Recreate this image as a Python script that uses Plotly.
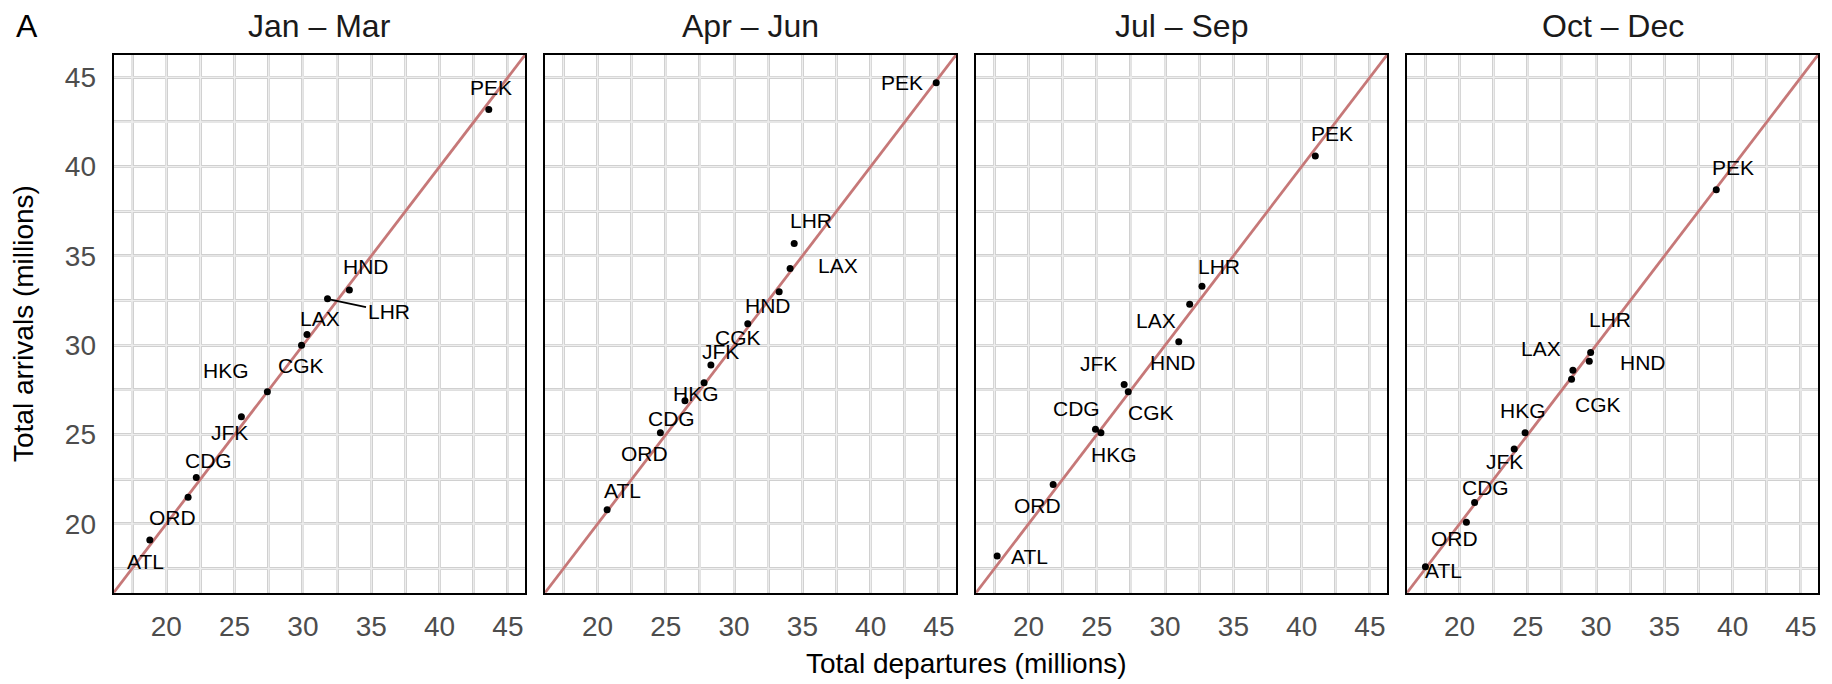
import plotly.graph_objects as go

# ---- data (millions of passengers) ----
airports = ["ATL", "ORD", "CDG", "JFK", "HKG", "CGK", "LAX", "LHR", "HND", "PEK"]
quarters = ["Jan – Mar", "Apr – Jun", "Jul – Sep", "Oct – Dec"]

dep_q1 = [18.8, 21.6, 22.2, 25.5, 27.4, 29.9, 30.3, 31.8, 33.4, 43.6]
arr_q1 = [19.1, 21.5, 22.6, 26.0, 27.4, 30.0, 30.6, 32.6, 33.1, 43.2]

dep_q2 = [20.7, 24.6, 26.4, 28.3, 27.8, 31.0, 34.1, 34.4, 33.3, 44.8]
arr_q2 = [20.8, 25.1, 26.9, 28.9, 27.9, 31.2, 34.3, 35.7, 33.0, 44.7]

dep_q3 = [17.7, 21.8, 24.9, 27.0, 25.3, 27.3, 31.8, 32.7, 31.0, 41.0]
arr_q3 = [18.2, 22.2, 25.3, 27.8, 25.1, 27.4, 32.3, 33.3, 30.2, 40.6]

dep_q4 = [17.5, 20.5, 21.1, 24.0, 24.8, 28.2, 28.3, 29.6, 29.5, 38.8]
arr_q4 = [17.6, 20.1, 21.2, 24.2, 25.1, 28.1, 28.6, 29.6, 29.1, 38.7]

major_ticks = [20, 25, 30, 35, 40, 45]
minor_ticks = [17.5, 22.5, 27.5, 32.5, 37.5, 42.5]

# ---- layout helpers ----
AX_LO, AX_HI = 16.15, 46.25
W, H = 1832, 684
panel_px = [(113.6, 525.0), (545.0, 956.0), (976.0, 1387.0), (1407.0, 1818.0)]
panel_top_px, panel_bot_px = 55.0, 592.7

# label placement: pixel nudge (right, down) from each point; True = leader line
label_nudge = [
    {"ATL": (-4, 21), "ORD": (-16, 20), "CDG": (12, -17), "JFK": (-12, 16), "HKG": (-41, -21),
     "CGK": (-1, 20), "LAX": (13, -16), "LHR": (61, 13, True), "HND": (17, -23), "PEK": (2, -22)},
    {"ATL": (15, -19), "ORD": (-16, 21), "CDG": (-13, 18), "HKG": (-8, 11), "JFK": (10, -13),
     "CGK": (-10, 14), "HND": (-11, 14), "LAX": (48, -3), "LHR": (17, -23), "PEK": (-34, 0)},
    {"ATL": (32, 0), "ORD": (-16, 21), "CDG": (-19, -21), "HKG": (13, 22), "JFK": (-26, -21),
     "CGK": (23, 21), "HND": (-6, 21), "LAX": (-34, 16), "LHR": (17, -20), "PEK": (17, -22)},
    {"ATL": (18, 4), "ORD": (-12, 16), "CDG": (11, -15), "JFK": (-10, 13), "HKG": (-2, -22),
     "CGK": (26, 25), "LAX": (-32, -22), "HND": (54, 1), "LHR": (19, -33), "PEK": (17, -22)},
]

FONT = "Liberation Sans, Arial, Helvetica, sans-serif"
GRID_EDGE = "#d0d0d0"
GRID_CORE = "#eeeeee"
DIAG = "#c67878"

series = [(dep_q1, arr_q1), (dep_q2, arr_q2), (dep_q3, arr_q3), (dep_q4, arr_q4)]

fig = go.Figure()
annotations = []

y_dom = [1 - panel_bot_px / H, 1 - panel_top_px / H]
grid_vals = sorted(major_ticks + minor_ticks)

for i, (deps, arrs) in enumerate(series):
    k = "" if i == 0 else str(i + 1)
    xa, ya = "x" + k, "y" + k
    x_dom = [panel_px[i][0] / W, panel_px[i][1] / W]

    axis_common = dict(
        range=[AX_LO, AX_HI], showline=True, linecolor="black", linewidth=2, mirror=True,
        showgrid=True, gridcolor=GRID_EDGE, gridwidth=3.4, zeroline=False,
        tickmode="array", tickvals=major_ticks, ticks="",
        tickfont=dict(family=FONT, size=28, color="#4d4d4d"),
        minor=dict(tickmode="array", tickvals=minor_ticks, showgrid=True,
                   gridcolor=GRID_EDGE, gridwidth=3.4, ticks=""),
        fixedrange=True,
    )
    fig.layout["xaxis" + k] = dict(axis_common, domain=x_dom, anchor=ya, ticklabelstandoff=8)
    fig.layout["yaxis" + k] = dict(axis_common, domain=y_dom, anchor=xa,
                                   showticklabels=(i == 0), ticklabelstandoff=10)

    # lighter core running down the middle of every grid line
    gx, gy = [], []
    for v in grid_vals:
        gx += [v, v, None, AX_LO, AX_HI, None]
        gy += [AX_LO, AX_HI, None, v, v, None]
    fig.add_trace(go.Scatter(x=gx, y=gy, mode="lines", line=dict(color=GRID_CORE, width=1.3),
                             xaxis=xa, yaxis=ya, hoverinfo="skip", connectgaps=False))

    # identity line (arrivals = departures)
    fig.add_trace(go.Scatter(x=[AX_LO, AX_HI], y=[AX_LO, AX_HI], mode="lines",
                             line=dict(color=DIAG, width=2.8), xaxis=xa, yaxis=ya,
                             hoverinfo="skip"))
    # airports
    fig.add_trace(go.Scatter(x=deps, y=arrs, mode="markers", text=airports,
                             marker=dict(color="black", size=7), xaxis=xa, yaxis=ya))

    for code, dx_, ay_ in zip(airports, deps, arrs):
        nudge = label_nudge[i][code]
        if len(nudge) == 3:
            annotations.append(dict(x=dx_, y=ay_, xref=xa, yref=ya, text=code,
                                    showarrow=True, ax=nudge[0], ay=nudge[1],
                                    arrowhead=0, arrowwidth=1.8, arrowcolor="black",
                                    standoff=2, font=dict(family=FONT, size=21, color="black")))
        else:
            annotations.append(dict(x=dx_, y=ay_, xref=xa, yref=ya, text=code,
                                    showarrow=False, xshift=nudge[0], yshift=-nudge[1],
                                    font=dict(family=FONT, size=21, color="black")))

    # panel title
    annotations.append(dict(x=(x_dom[0] + x_dom[1]) / 2, y=1 - 26 / H, xref="paper", yref="paper",
                            text=quarters[i], showarrow=False, xanchor="center", yanchor="middle",
                            font=dict(family=FONT, size=32, color="#1a1a1a")))

annotations += [
    dict(x=27 / W, y=1 - 26 / H, xref="paper", yref="paper", text="A", showarrow=False,
         xanchor="center", yanchor="middle", font=dict(family=FONT, size=32, color="black")),
    dict(x=966 / W, y=1 - 663 / H, xref="paper", yref="paper", text="Total departures (millions)",
         showarrow=False, xanchor="center", yanchor="middle",
         font=dict(family=FONT, size=28, color="black")),
    dict(x=24 / W, y=1 - 324 / H, xref="paper", yref="paper", text="Total arrivals (millions)",
         showarrow=False, textangle=-90, xanchor="center", yanchor="middle",
         font=dict(family=FONT, size=28, color="black")),
]

fig.update_layout(
    width=W, height=H, margin=dict(l=0, r=0, t=0, b=0),
    paper_bgcolor="white", plot_bgcolor="white", showlegend=False,
    annotations=annotations, font=dict(family=FONT),
)

fig.write_html("out.html")
